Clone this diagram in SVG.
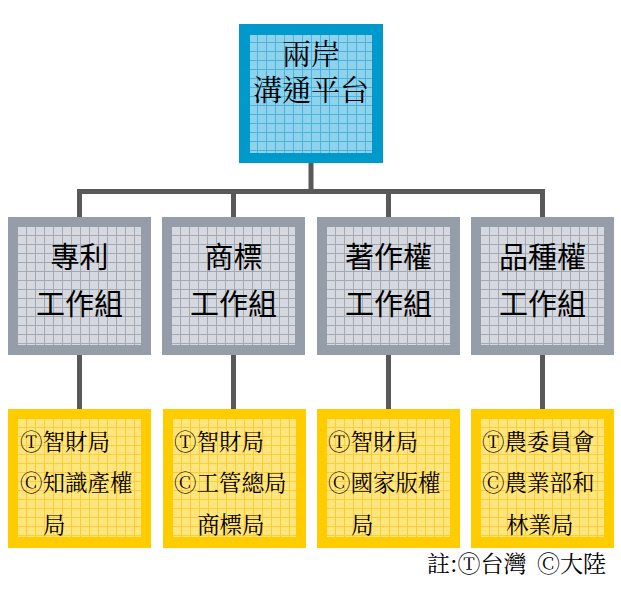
<svg xmlns="http://www.w3.org/2000/svg" width="621" height="592" viewBox="0 0 621 592">
<defs>
<pattern id="gBlue" width="9" height="9" patternUnits="userSpaceOnUse">
<rect width="9" height="9" fill="#8ED2EC"/>
<path d="M0 0.5H9M0.5 0V9" stroke="#4AB2DC" stroke-width="1"/>
</pattern>
<pattern id="gGray" width="9" height="9" patternUnits="userSpaceOnUse">
<rect width="9" height="9" fill="#D5D8DE"/>
<path d="M0 0.5H9M0.5 0V9" stroke="#A2A9B2" stroke-width="1"/>
</pattern>
<pattern id="gYel" width="9" height="9" patternUnits="userSpaceOnUse">
<rect width="9" height="9" fill="#FFE57E"/>
<path d="M0 0.5H9M0.5 0V9" stroke="#FFCC33" stroke-width="1"/>
</pattern>
</defs>
<style>
.conn{stroke:#595959;stroke-width:5;fill:none}
.ming{font-family:"Noto Serif CJK TC","Noto Sans CJK TC","Noto Sans CJK SC",serif;fill:#000}
.hei{font-family:"Noto Sans CJK TC","Noto Sans CJK SC",sans-serif;fill:#000}
.t29{font-size:29px;text-anchor:middle}
.t22{font-size:22.5px}
.t23{font-size:23px}
</style>
<rect width="621" height="592" fill="#fff"/>
<g id="connectors">
<path class="conn" d="M311 163V191.5M79.5 191.5H542.5M79.5 189V217M233.5 191.5V217M388.5 191.5V217M542.5 189V217"/>
<path class="conn" d="M79.5 355V409M233.5 355V409M388.5 355V409M542.5 355V409"/>
</g>
<g id="top" transform="translate(239,24)">
<rect width="144" height="139" fill="#0099CC"/>
<rect x="11" y="11" width="122" height="118" fill="url(#gBlue)"/>
<text class="ming t29"><tspan x="72" y="41">兩岸</tspan><tspan x="72" y="77">溝通平台</tspan></text>
</g>
<g id="g1" transform="translate(8,217)">
<rect width="143" height="138" fill="#959EA8"/>
<rect x="10" y="10" width="123" height="118" fill="url(#gGray)"/>
<text class="hei t29" x="71.5" y="51">專利</text>
<text class="hei t29" x="71.5" y="98">工作組</text>
</g>
<g id="g2" transform="translate(162,217)">
<rect width="143" height="138" fill="#959EA8"/>
<rect x="10" y="10" width="123" height="118" fill="url(#gGray)"/>
<text class="hei t29" x="71.5" y="51">商標</text>
<text class="hei t29" x="71.5" y="98">工作組</text>
</g>
<g id="g3" transform="translate(317,217)">
<rect width="143" height="138" fill="#959EA8"/>
<rect x="10" y="10" width="123" height="118" fill="url(#gGray)"/>
<text class="hei t29" x="71.5" y="51">著作權</text>
<text class="hei t29" x="71.5" y="98">工作組</text>
</g>
<g id="g4" transform="translate(471,217)">
<rect width="143" height="138" fill="#959EA8"/>
<rect x="10" y="10" width="123" height="118" fill="url(#gGray)"/>
<text class="hei t29" x="71.5" y="51">品種權</text>
<text class="hei t29" x="71.5" y="98">工作組</text>
</g>
<g id="y1" transform="translate(8,409)">
<rect width="143" height="139" fill="#FFCC00"/>
<rect x="10" y="10" width="123" height="118" fill="url(#gYel)"/>
<text class="ming t22" x="12" y="41">Ⓣ智財局</text>
<text class="ming t22" x="12" y="82">Ⓒ知識產權</text>
<text class="ming t22" x="35" y="124">局</text>
</g>
<g id="y2" transform="translate(163,409)">
<rect width="143" height="139" fill="#FFCC00"/>
<rect x="10" y="10" width="123" height="118" fill="url(#gYel)"/>
<text class="ming t22" x="11" y="41">Ⓣ智財局</text>
<text class="ming t22" x="11" y="82">Ⓒ工管總局</text>
<text class="ming t22" x="34" y="124">商標局</text>
</g>
<g id="y3" transform="translate(317,409)">
<rect width="143" height="139" fill="#FFCC00"/>
<rect x="10" y="10" width="123" height="118" fill="url(#gYel)"/>
<text class="ming t22" x="11" y="41">Ⓣ智財局</text>
<text class="ming t22" x="11" y="82">Ⓒ國家版權</text>
<text class="ming t22" x="34" y="124">局</text>
</g>
<g id="y4" transform="translate(471,409)">
<rect width="143" height="139" fill="#FFCC00"/>
<rect x="10" y="10" width="123" height="118" fill="url(#gYel)"/>
<text class="ming t22" x="11" y="41">Ⓣ農委員會</text>
<text class="ming t22" x="11" y="82">Ⓒ農業部和</text>
<text class="ming t22" x="35" y="124">林業局</text>
</g>
<g id="note">
<text class="ming t23" x="427" y="572">註:Ⓣ台灣</text>
<text class="ming t23" x="537" y="572">Ⓒ大陸</text>
</g>
</svg>
